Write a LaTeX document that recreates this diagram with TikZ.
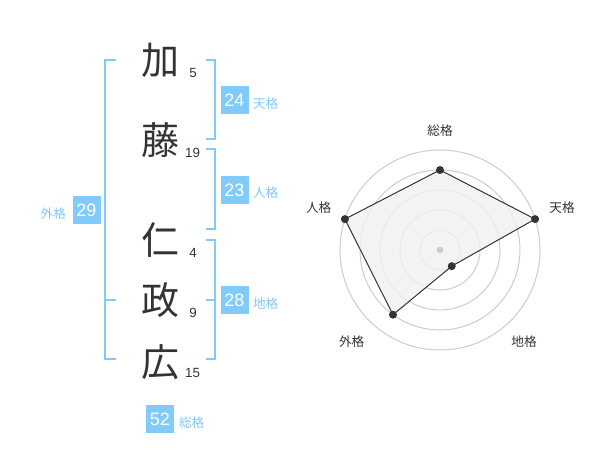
\documentclass[tikz,border=0pt]{standalone}
\usepackage{fontspec}
\usetikzlibrary{calc}
\setmainfont{Liberation Sans}
\newfontfamily\jp{Noto Sans CJK JP}
\definecolor{boxblue}{RGB}{129,203,250}
\definecolor{lblblue}{RGB}{128,200,245}
\definecolor{txt}{RGB}{51,51,51}
\definecolor{ringgray}{RGB}{204,204,204}
\definecolor{polyfill}{RGB}{240,240,240}
\tikzset{
  kanji/.style={font=\jp\fontsize{28.5}{28.5}\selectfont, text=txt, inner sep=0pt},
  strokes/.style={font=\fontsize{10}{10}\selectfont, text=txt, inner sep=0pt},
  valbox/.style={fill=boxblue, text=white, minimum width=21pt, minimum height=21pt, inner sep=0pt, font=\fontsize{13.5}{13.5}\selectfont},
  kaku/.style={text=lblblue, font=\jp\fontsize{9.5}{9.5}\selectfont, inner sep=0pt},
  brk/.style={draw=boxblue, line width=1.5pt},
  ring/.style={draw=ringgray, line width=0.75pt},
  rlabel/.style={text=txt, font=\jp\fontsize{9.5}{9.5}\selectfont, inner sep=0pt},
  dot/.style={circle, fill=txt, inner sep=0pt, minimum size=6pt},
}
\begin{document}
\begin{tikzpicture}[x=0.75pt,y=0.75pt]
\useasboundingbox (0,0) rectangle (600,470);
% kanji
\node[kanji] (k1) at (160,410) {加};
\node[kanji] (k2) at (160,329.5) {藤};
\node[kanji] (k3) at (160,230) {仁};
\node[kanji] (k4) at (160,170) {政};
\node[kanji] (k5) at (160,108) {広};
% stroke counts
\node[strokes] (s1) at (193,396.7) {5};
\node[strokes] (s2) at (192.5,316.7) {19};
\node[strokes] (s3) at (193,216.7) {4};
\node[strokes] (s4) at (193,156.7) {9};
\node[strokes] (s5) at (192.5,97.3) {15};
% brackets
\coordinate (lt) at (105,410);
\coordinate (lb) at (105,110.5);
\coordinate (lm) at (105,170);
\draw[brk] (116,410) -- (lt) -- (lb) -- (116,110.5);
\draw[brk] (lm) -- (116,170);
\coordinate (r1t) at (214.5,410);
\coordinate (r1b) at (214.5,330.7);
\draw[brk] (205.5,410) -- (r1t) -- (r1b) -- (205.5,330.7);
\coordinate (r2t) at (214.5,320.7);
\coordinate (r2b) at (214.5,240.7);
\draw[brk] (205.5,320.7) -- (r2t) -- (r2b) -- (205.5,240.7);
\coordinate (r3t) at (214.5,230);
\coordinate (r3b) at (214.5,110.5);
\coordinate (r3m) at (214.5,170);
\draw[brk] (205.5,230) -- (r3t) -- (r3b) -- (205.5,110.5);
\draw[brk] (r3m) -- (205.5,170);
% value boxes
\node[valbox] (b24) at (234.5,369.5) {24};
\node[kaku] (l24) at (265.7,366) {天格};
\node[valbox] (b23) at (234.5,280) {23};
\node[kaku] (l23) at (265.7,277) {人格};
\node[valbox] (b28) at (234.5,170) {28};
\node[kaku] (l28) at (265.7,166) {地格};
\node[valbox] (b29) at (86.5,260) {29};
\node[kaku] (l29) at (53.3,256.7) {外格};
\node[valbox] (b52) at (160,51) {52};
\node[kaku] (l52) at (191.7,47.3) {総格};
% radar
\coordinate (c) at (440,220);
\foreach \r in {20,40,60,80,100} \draw[ring] (c) circle (\r);
\coordinate (p1) at ($(c)+(90:80)$);
\coordinate (p2) at ($(c)+(18:100)$);
\coordinate (p3) at ($(c)+(-54:20)$);
\coordinate (p4) at ($(c)+(-126:80)$);
\coordinate (p5) at ($(c)+(162:100)$);
\fill[polyfill, fill opacity=0.8] (p1) -- (p2) -- (p3) -- (p4) -- (p5) -- cycle;
\draw[txt, line width=0.75pt] (p1) -- (p2) -- (p3) -- (p4) -- (p5) -- cycle;
\node[circle, fill=ringgray, inner sep=0pt, minimum size=5pt] (cd) at (c) {};
\foreach \p in {p1,p2,p3,p4,p5} \node[dot] at (\p) {};
\node[rlabel] (t1) at (440,339.3) {総格};
\node[rlabel] (t2) at (562,262) {天格};
\node[rlabel] (t3) at (524,128.3) {地格};
\node[rlabel] (t4) at (351.7,128.3) {外格};
\node[rlabel] (t5) at (318.7,262) {人格};
\end{tikzpicture}
\end{document}
